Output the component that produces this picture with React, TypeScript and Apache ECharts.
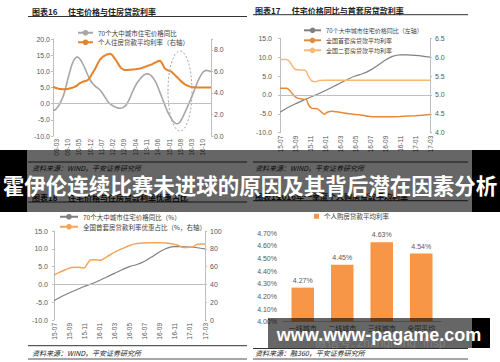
import React, { useEffect, useRef } from "react";
import * as echarts from "echarts";

const CJK = '"Noto Sans CJK SC", "Noto Sans", sans-serif';
const NUM = '"Liberation Sans", Arial, sans-serif';

// ---------- Chart 16: monthly 2009-01 .. 2017-03 ----------
const months16: string[] = [];
for (let y = 9; y <= 17; y++) {
  for (let m = 1; m <= 12; m++) {
    if (y === 17 && m > 3) break;
    months16.push(String(y).padStart(2, "0") + "-" + String(m).padStart(2, "0"));
  }
}
const price16 = [
  -2.0, -2.0, -1.6, -1.0, -0.2, 0.8, 1.9, 3.4, 5.2, 7.2,
  9.1, 10.9, 12.4, 13.5, 14.2, 14.4, 14.2, 13.6, 12.8, 11.8,
  10.7, 9.5, 8.4, 7.4, 6.6, 6.0, 5.5, 5.1, 4.7, 4.3,
  3.7, 3.0, 2.2, 1.4, 0.7, 0.2, -0.3, -0.6, -0.9, -1.1,
  -1.3, -1.4, -1.4, -1.3, -1.0, -0.6, 0.1, 1.0, 2.1, 3.3,
  4.4, 5.4, 6.3, 7.0, 7.6, 8.2, 8.7, 9.0, 9.2, 9.2,
  9.0, 8.6, 8.0, 7.3, 6.4, 5.2, 3.9, 2.6, 1.3, 0.1,
  -1.2, -2.4, -3.4, -4.3, -5.1, -5.7, -6.1, -6.2, -6.0, -5.5,
  -4.6, -3.6, -2.5, -1.4, -0.3, 0.9, 2.1, 3.3, 4.6, 5.9,
  7.1, 8.1, 9.0, 9.7, 10.1, 10.3, 10.2, 10.1, 9.9,
];
const rate16 = [
  4.55, 4.5, 4.45, 4.4, 4.37, 4.35, 4.34, 4.34, 4.35, 4.37,
  4.4, 4.44, 4.48, 4.53, 4.6, 4.7, 4.82, 4.92, 5.0, 5.06,
  5.1, 5.15, 5.25, 5.45, 5.7, 5.95, 6.2, 6.5, 6.8, 7.05,
  7.22, 7.35, 7.44, 7.52, 7.58, 7.62, 7.6, 7.45, 7.25, 7.05,
  6.8, 6.55, 6.35, 6.22, 6.15, 6.13, 6.13, 6.14, 6.15, 6.16,
  6.17, 6.19, 6.21, 6.24, 6.27, 6.31, 6.36, 6.41, 6.47, 6.53,
  6.58, 6.63, 6.7, 6.78, 6.86, 6.94, 6.98, 6.9, 6.65, 6.35,
  6.2, 6.12, 6.06, 6.0, 5.9, 5.75, 5.6, 5.45, 5.3, 5.15,
  5.0, 4.88, 4.78, 4.7, 4.63, 4.58, 4.55, 4.53, 4.52, 4.51,
  4.5, 4.5, 4.5, 4.5, 4.5, 4.5, 4.5, 4.5, 4.5,
];

// ---------- Charts 17 & 18: 2015-07 .. 2017-03 ----------
const months17 = [
  "15-07", "15-08", "15-09", "15-10", "15-11", "15-12",
  "16-01", "16-02", "16-03", "16-04", "16-05", "16-06",
  "16-07", "16-08", "16-09", "16-10", "16-11", "16-12",
  "17-01", "17-02", "17-03",
];
const price70 = [
  -4.6, -3.4, -2.4, -1.5, -0.6, 0.2, 1.1, 2.1, 3.1, 4.1, 5.0,
  5.6, 6.5, 7.8, 9.2, 10.2, 10.6, 10.6, 10.5, 10.3, 10.0,
];
// first-home rate (positions in months since 15-07)
const firstX17 = [0, 0.9, 1.3, 1.7, 2.2, 2.9, 3.5, 3.8, 4.2, 5.0, 5.5, 5.9, 6.3, 6.9, 8.0, 9.3, 10.7, 12.0, 14, 16, 18, 20];
const firstV17 = [5.18, 5.18, 5.12, 5.02, 4.93, 4.89, 4.88, 4.74, 4.65, 4.63, 4.55, 4.49, 4.54, 4.57, 4.54, 4.5, 4.47, 4.43, 4.42, 4.43, 4.45, 4.48];
const secondX17 = [0, 0.9, 1.3, 1.6, 2.0, 2.7, 3.4, 3.8, 4.2, 4.7, 5.2, 6.0, 10, 15, 20];
const secondV17 = [5.94, 5.94, 5.88, 5.78, 5.68, 5.66, 5.65, 5.49, 5.38, 5.35, 5.38, 5.39, 5.39, 5.39, 5.39];
const prefX18 = [0, 0.7, 1.5, 2.3, 3.4, 4.0, 4.4, 4.8, 5.4, 6.1, 7.0, 8.1, 9.0, 10.1, 11.0, 12.7, 14.0, 15.4, 16.4, 17.0, 17.6, 18.4, 19.0, 20];
const prefV18 = [50.5, 53.5, 56.5, 59.0, 59.2, 58.5, 63.0, 67.5, 67.8, 67.0, 71.0, 76.5, 80.0, 84.0, 86.0, 86.8, 86.8, 86.0, 84.0, 81.8, 81.5, 82.3, 85.2, 85.5];

// ---------- Chart 19 ----------
const cities = ["一线城市", "二线城市", "三线城市", "全国平均"];
const rate19 = [4.27, 4.45, 4.63, 4.54];

const pairs = (xs: number[], ys: number[]) => xs.map((x, i) => [x, ys[i]]);

const labelBase = { color: "#595959", fontSize: 7, fontFamily: NUM };

const yAx = (gridIndex: number, position: string, min: number, max: number, interval: number, fmt: (v: number) => string, margin = 3) => ({
  type: "value",
  gridIndex,
  position,
  min,
  max,
  interval,
  axisLine: { show: true, lineStyle: { color: "#BFBFBF", width: 1 } },
  axisTick: { show: true, length: 2, lineStyle: { color: "#BFBFBF" } },
  splitLine: { show: false },
  axisLabel: { ...labelBase, formatter: fmt, margin },
});

const xMonthAx = (gridIndex: number) => ({
  type: "value",
  gridIndex,
  min: 0,
  max: 20,
  interval: 2,
  axisLine: { show: false, onZero: false },
  axisTick: { show: false },
  splitLine: { show: false },
  axisLabel: { ...labelBase, fontSize: 6.5, rotate: 90, margin: 3, formatter: (v: number) => months17[Math.round(v)] ?? "" },
});

const zeroLine = {
  silent: true,
  symbol: ["none", "none"],
  label: { show: false },
  lineStyle: { color: "#BFBFBF", width: 1, type: "solid" },
  data: [{ yAxis: 0 }],
};

const T = (x: number, y: number, text: string, o: any = {}) => ({
  type: "text",
  x,
  y,
  z: o.z ?? 10,
  style: {
    text,
    fill: o.fill ?? "#222",
    fontSize: o.fontSize ?? 8,
    fontWeight: o.fontWeight ?? "normal",
    fontStyle: o.fontStyle ?? "normal",
    fontFamily: o.fontFamily ?? CJK,
    align: o.align ?? "left",
    verticalAlign: "middle",
  },
});
const L = (x1: number, y1: number, x2: number, y2: number, stroke = "#333", lineWidth = 1) => ({
  type: "line",
  z: 10,
  shape: { x1, y1, x2, y2 },
  style: { stroke, lineWidth },
});
const R = (x: number, y: number, width: number, height: number, fill: string) => ({
  type: "rect",
  z: 100,
  shape: { x, y, width, height },
  style: { fill },
});

const legendText = (fontSize: number) => ({ fontSize, color: "#404040", fontFamily: CJK });

export default function App() {
  const ref = useRef<HTMLDivElement>(null);
  useEffect(() => {
    if (!ref.current) return;
    const chart = echarts.init(ref.current, undefined, { renderer: "svg" });
    const option: any = {
      animation: false,
      backgroundColor: "#ffffff",
      grid: [
        { left: 53, top: 39, width: 158, height: 97 },
        { left: 280, top: 38.3, width: 150, height: 94.4 },
        { left: 54, top: 231, width: 151, height: 89 },
        { left: 283, top: 233.3, width: 158, height: 88.4 },
      ],
      xAxis: [
        {
          type: "category",
          gridIndex: 0,
          data: months16,
          boundaryGap: false,
          axisLine: { show: false, onZero: false },
          axisTick: { show: false },
          axisLabel: { ...labelBase, fontSize: 6.5, rotate: 90, margin: 3, interval: (i: number) => i >= 2 && (i - 2) % 7 === 0 },
        },
        xMonthAx(1),
        xMonthAx(2),
        {
          type: "category",
          gridIndex: 3,
          data: cities,
          axisLine: { show: true, lineStyle: { color: "#BFBFBF" } },
          axisTick: { show: false },
          axisLabel: { ...labelBase, fontFamily: CJK, margin: 3 },
        },
      ],
      yAxis: [
        yAx(0, "left", -10, 20, 5, (v) => v.toFixed(1)),
        yAx(0, "right", 0, 9, 2, (v) => (v > 8.5 ? "" : v.toFixed(1))),
        yAx(1, "left", -10, 15, 5, (v) => v.toFixed(1), 8),
        yAx(1, "right", 4, 6.5, 0.5, (v) => v.toFixed(1), 5),
        yAx(2, "left", -10, 15, 5, (v) => v.toFixed(1), 6),
        yAx(2, "right", 0, 100, 20, (v) => String(Math.round(v)), 5),
        {
          type: "value",
          gridIndex: 3,
          min: 4,
          max: 4.7,
          interval: 0.1,
          axisLine: { show: false },
          axisTick: { show: false },
          splitLine: { show: false },
          axisLabel: { ...labelBase, margin: 6, formatter: (v: number) => v.toFixed(2) + "%" },
        },
      ],
      legend: [
        {
          data: ["70个大中城市住宅价格同比", "个人住房贷款平均利率（右轴）"],
          orient: "vertical", left: 77, top: 29.5, padding: 0, itemWidth: 15, itemHeight: 7, itemGap: 3,
          selectedMode: false, textStyle: legendText(6.5),
        },
        {
          data: ["70个大中城市住宅价格同比（左轴）", "全国首套房贷款平均利率", "全国二套房贷款平均利率"],
          orient: "vertical", left: 303, top: 27.3, padding: 0, itemWidth: 17, itemHeight: 7, itemGap: 4,
          selectedMode: false, textStyle: legendText(6),
        },
        {
          data: ["70个大中城市住宅价格同比（%）", "全国首套房贷款利率优惠占比（%，右轴）"],
          orient: "vertical", left: 59, top: 213.5, padding: 0, itemWidth: 18, itemHeight: 7, itemGap: 3.5,
          selectedMode: false, textStyle: legendText(6.5),
        },
        {
          data: [{ name: "个人购房贷款平均利率", icon: "rect" }],
          left: 314, top: 213, padding: 0, itemWidth: 5, itemHeight: 5,
          selectedMode: false, textStyle: legendText(6.5),
        },
      ],
      series: [
        {
          name: "70个大中城市住宅价格同比", type: "line", xAxisIndex: 0, yAxisIndex: 0, data: price16,
          symbol: "none", smooth: 0.3, lineStyle: { color: "#A6A6A6", width: 1.6 }, itemStyle: { color: "#A6A6A6" },
          markLine: zeroLine,
        },
        {
          name: "个人住房贷款平均利率（右轴）", type: "line", xAxisIndex: 0, yAxisIndex: 1, data: rate16,
          symbol: "none", smooth: 0.3, lineStyle: { color: "#E6822A", width: 2 }, itemStyle: { color: "#E6822A" },
        },
        {
          name: "70个大中城市住宅价格同比（左轴）", type: "line", xAxisIndex: 1, yAxisIndex: 2,
          data: price70.map((v, i) => [i, v]),
          symbol: "none", smooth: 0.3, lineStyle: { color: "#808080", width: 1.2 }, itemStyle: { color: "#808080" },
          markLine: zeroLine,
        },
        {
          name: "全国首套房贷款平均利率", type: "line", xAxisIndex: 1, yAxisIndex: 3, data: pairs(firstX17, firstV17),
          symbol: "none", smooth: 0.2, lineStyle: { color: "#E58A3C", width: 1.5 }, itemStyle: { color: "#E58A3C" },
        },
        {
          name: "全国二套房贷款平均利率", type: "line", xAxisIndex: 1, yAxisIndex: 3, data: pairs(secondX17, secondV17),
          symbol: "none", smooth: 0.2, lineStyle: { color: "#F8B878", width: 1.5 }, itemStyle: { color: "#F8B878" },
        },
        {
          name: "70个大中城市住宅价格同比（%）", type: "line", xAxisIndex: 2, yAxisIndex: 4,
          data: price70.map((v, i) => [i, v]),
          symbol: "none", smooth: 0.3, lineStyle: { color: "#808080", width: 1.2 }, itemStyle: { color: "#808080" },
          markLine: zeroLine,
        },
        {
          name: "全国首套房贷款利率优惠占比（%，右轴）", type: "line", xAxisIndex: 2, yAxisIndex: 5, data: pairs(prefX18, prefV18),
          symbol: "none", smooth: 0.2, lineStyle: { color: "#F4A55A", width: 1.5 }, itemStyle: { color: "#F4A55A" },
        },
        {
          name: "个人购房贷款平均利率", type: "bar", xAxisIndex: 3, yAxisIndex: 6, data: rate19,
          barWidth: "57%", itemStyle: { color: "#F79646" },
          label: { show: true, position: "top", distance: 4, ...labelBase, formatter: (p: any) => p.value.toFixed(2) + "%" },
        },
      ],
      graphic: [
        // panel titles and rules
        T(32, 11, "图表16", { fontWeight: "bold" }),
        T(68, 11, "住宅价格与住房贷款利率", { fontWeight: "bold" }),
        L(28, 16.5, 247, 16.5),
        T(255, 10.3, "图表17", { fontWeight: "bold" }),
        T(291.7, 10.3, "住宅价格同比与首套房贷款利率", { fontWeight: "bold" }),
        L(253, 14.7, 468, 14.7),
        L(28, 162, 247, 162),
        T(32, 168, "资料来源：WIND，平安证券研究所", { fontSize: 7, fontStyle: "italic" }),
        L(253, 162, 468, 162),
        T(255, 168, "资料来源：WIND，平安证券研究所", { fontSize: 7, fontStyle: "italic" }),
        T(32, 197, "图表18", { fontWeight: "bold" }),
        T(68, 197, "住宅价格与住房贷款利率优惠占比", { fontWeight: "bold" }),
        L(28, 202, 247, 202),
        T(255, 196, "图表19", { fontWeight: "bold" }),
        T(277, 196, "2016年一季度个人购房贷款平均利率", { fontWeight: "bold" }),
        L(253, 200.7, 468, 200.7),
        L(28, 345.7, 247, 345.7),
        T(32, 353, "资料来源：WIND，平安证券研究所", { fontSize: 7, fontStyle: "italic" }),
        L(28, 359, 247, 359, "#A6A6A6", 2),
        L(253, 348.5, 468, 348.5),
        T(255, 353, "资料来源：融360，平安证券研究所", { fontSize: 7, fontStyle: "italic" }),
        L(253, 359, 468, 359, "#A6A6A6", 2),
        // dotted ellipse in chart 16
        {
          type: "ellipse", z: 10,
          shape: { cx: 180, cy: 91, rx: 12, ry: 40 },
          style: { fill: "none", stroke: "#A6A6A6", lineWidth: 1, lineDash: [2, 2] },
        },
        // banner overlay
        R(27, 150, 445, 62, "rgba(0,0,0,0.6)"),
        R(0, 150, 27, 62, "#000000"),
        R(472, 150, 28, 62, "#000000"),
        T(250, 184, "霍伊伦连续比赛未进球的原因及其背后潜在因素分析", {
          z: 101, fill: "#ffffff", fontSize: 21.5, fontWeight: "bold", align: "center",
        }),
        // watermark band
        R(268, 318, 204, 30, "rgba(0,0,0,0.6)"),
        R(472, 318, 18, 30, "#000000"),
        T(380, 343, "微信号: zhangming_fhsp", { z: 101, fill: "rgba(255,255,255,0.18)", fontSize: 12, align: "center", fontFamily: NUM }),
        T(379, 334.5, "www.www-pagame.com", { z: 102, fill: "#ffffff", fontSize: 18, fontWeight: "bold", align: "center", fontFamily: NUM }),
      ],
    };
    chart.setOption(option);
    return () => chart.dispose();
  }, []);
  return <div ref={ref} style={{ position: "fixed", left: 0, top: 0, width: 500, height: 362 }} />;
}
